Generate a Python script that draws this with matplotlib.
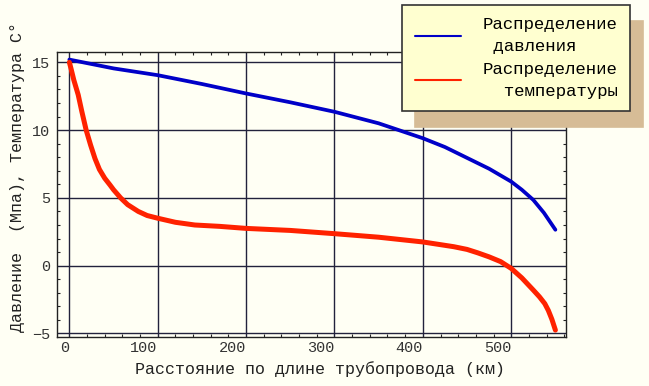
import matplotlib
matplotlib.use("Agg")
import matplotlib.pyplot as plt
from matplotlib.ticker import MultipleLocator

# distance along pipeline (km) and values
dist_p = [0, 50, 100, 150, 200, 250, 300, 350, 375, 400, 425, 450, 475, 500, 512, 525, 537, 550]
pressure = [15.2, 14.55, 14.05, 13.4, 12.7, 12.05, 11.35, 10.5, 9.95, 9.4, 8.75, 7.95, 7.15, 6.2,
            5.6, 4.85, 3.9, 2.65]

dist_t = [0, 2, 5, 10, 14, 19, 24, 29, 34, 40, 46, 50, 58, 66, 78, 88, 100, 120, 142, 170, 200,
          250, 300, 350, 400, 420, 435, 450, 462, 475, 488, 500, 512, 525, 532, 538, 542, 546, 550]
temperature = [15.0, 14.5, 13.7, 12.6, 11.4, 10.0, 8.9, 7.9, 7.1, 6.45, 5.95, 5.6, 5.0, 4.5, 4.0,
               3.7, 3.5, 3.2, 3.0, 2.9, 2.75, 2.6, 2.36, 2.1, 1.75, 1.55, 1.4, 1.2, 0.95, 0.65,
               0.3, -0.2, -0.9, -1.8, -2.3, -2.8, -3.3, -3.95, -4.75]

label_p = "Распределение\n давления"
label_t = "Распределение\n  температуры"
xlabel = "Расстояние по длине трубопровода (км)"
ylabel = "Давление  (Мпа), Температура С°"

bg = "#fffff4"
font = "Liberation Mono"

fig = plt.figure(figsize=(6.49, 3.86), dpi=100, facecolor=bg)
ax = fig.add_axes([57/649, 1 - 337/386, 509/649, 285/386], facecolor=bg)

ax.plot(dist_p, pressure, color="#0000c8", lw=2.7, label=label_p, solid_capstyle="round")
ax.plot(dist_t, temperature, color="#ff2200", lw=3.6, label=label_t, solid_capstyle="round")

ax.set_xlim(-14, 562)
ax.set_ylim(-5.26, 15.76)
ax.xaxis.set_major_locator(MultipleLocator(100))
ax.xaxis.set_minor_locator(MultipleLocator(20))
ax.yaxis.set_major_locator(MultipleLocator(5))
ax.yaxis.set_minor_locator(MultipleLocator(1))

ax.grid(True, which="major", color="#22223c", lw=1.0)
ax.tick_params(which="both", direction="in", top=True, right=True, color="#222222")
ax.tick_params(which="major", length=0)
ax.tick_params(which="minor", length=2.5, width=0.8)
ax.tick_params(axis="x", pad=3, labelsize=11, labelcolor="#333333")
ax.tick_params(axis="y", pad=5, labelsize=11, labelcolor="#333333")
for lab in ax.get_xticklabels() + ax.get_yticklabels():
    lab.set_fontfamily(font)
plt.setp(ax.get_xticklabels(), ha="right")
for sp in ax.spines.values():
    sp.set_color("#222222")
    sp.set_linewidth(1.0)

ax.set_xlabel(xlabel, fontsize=12, family=font, color="#222222")
ax.set_ylabel(ylabel, fontsize=12, family=font, color="#222222")
ax.xaxis.set_label_coords(0.517, -0.085)
ax.yaxis.set_label_coords(-0.062, 0.56)

leg = ax.legend(loc="upper left", bbox_to_anchor=(402/649, 1 - 5/386),
                bbox_transform=fig.transFigure, prop={"family": font, "size": 12.5},
                facecolor="#ffffd0", edgecolor="#333333", framealpha=1, fancybox=False,
                shadow={"ox": 9, "oy": -11.5, "color": "#d6bc96", "alpha": 1},
                handlelength=2.7, handletextpad=1.25, borderpad=0.72, labelspacing=0.45,
                borderaxespad=0)
leg.get_frame().set_linewidth(1.2)
for line in leg.get_lines():
    line.set_linewidth(1.5)
for t in leg.get_texts():
    t.set_linespacing(1.55)

fig.savefig("out.png", dpi=100, facecolor=bg)
